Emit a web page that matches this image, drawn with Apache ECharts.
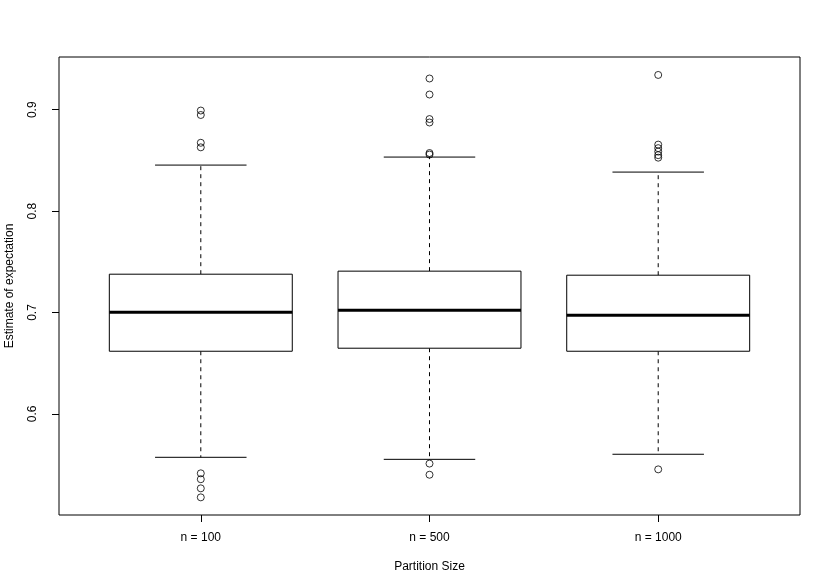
<!DOCTYPE html>
<html><head><meta charset="utf-8">
<script src="https://cdn.jsdelivr.net/npm/echarts@6/dist/echarts.min.js"></script>
<style>html,body{margin:0;padding:0;background:#fff}#c{width:830px;height:588px}</style>
</head><body><div id="c"></div>
<script>
const categories = ['n = 100', 'n = 500', 'n = 1000'];
const positions = [1, 2, 3];
const lowerWhisker = [0.5572, 0.5552, 0.5602];
const q1 = [0.6618, 0.6648, 0.6618];
const median = [0.7003, 0.7023, 0.6973];
const q3 = [0.7378, 0.7408, 0.7368];
const upperWhisker = [0.8454, 0.8533, 0.8385];
const outliers100 = [0.8992, 0.8948, 0.8674, 0.8629, 0.5414, 0.5356, 0.5266, 0.5177];
const outliers500 = [0.9308, 0.9150, 0.8908, 0.8874, 0.8573, 0.8558, 0.5510, 0.5400];
const outliers1000 = [0.9343, 0.8656, 0.8621, 0.8587, 0.8552, 0.8527, 0.5453];
const yTicks = [0.6, 0.7, 0.8, 0.9];

const outlierSets = [outliers100, outliers500, outliers1000];
const boxData = positions.map((p, i) => [p, lowerWhisker[i], q1[i], median[i], q3[i], upperWhisker[i]]);
const outlierData = [];
outlierSets.forEach((arr, i) => arr.forEach(v => outlierData.push([positions[i], v])));

const FONT = 'Liberation Sans, Arial, sans-serif';
const chart = echarts.init(document.getElementById('c'), null, {renderer: 'canvas'});
chart.setOption({
  animation: false,
  backgroundColor: '#fff',
  grid: {left: 59, right: 30, top: 57, bottom: 73, show: true, borderColor: '#000', borderWidth: 1, backgroundColor: 'transparent', containLabel: false, outerBoundsMode: 'none'},
  xAxis: {
    type: 'value', min: 0.38, max: 3.62,
    axisLine: {show: false},
    splitLine: {show: false},
    axisTick: {show: true, length: 7, lineStyle: {color: '#000'}, customValues: positions},
    axisLabel: {show: true, margin: 17, color: '#000', fontFamily: FONT, fontSize: 12,
      customValues: positions,
      formatter: v => categories[positions.indexOf(Math.round(v))] || ''},
    name: 'Partition Size', nameLocation: 'middle', nameGap: 46,
    nameTextStyle: {color: '#000', fontFamily: FONT, fontSize: 12}
  },
  yAxis: {
    type: 'value', min: 0.5003, max: 0.952,
    axisLine: {show: false},
    splitLine: {show: false},
    axisTick: {show: true, length: 7, lineStyle: {color: '#000'}, customValues: yTicks},
    axisLabel: {show: true, margin: 20, rotate: 90, color: '#000', fontFamily: FONT, fontSize: 12,
      customValues: yTicks, formatter: v => v.toFixed(1)},
    name: 'Estimate of expectation', nameLocation: 'middle', nameGap: 43,
    nameTextStyle: {color: '#000', fontFamily: FONT, fontSize: 12}
  },
  series: [
    {
      type: 'custom',
      data: boxData,
      encode: {x: 0, y: [1, 2, 3, 4, 5]},
      renderItem: function (params, api) {
        const x = api.value(0);
        const lw = api.value(1), a = api.value(2), m = api.value(3), b = api.value(4), uw = api.value(5);
        const L = api.coord([x - 0.4, a]), R = api.coord([x + 0.4, b]);
        const c = api.coord([x, m]);
        const pLw = api.coord([x, lw]), pA = api.coord([x, a]), pB = api.coord([x, b]), pUw = api.coord([x, uw]);
        const capL = api.coord([x - 0.2, uw])[0], capR = api.coord([x + 0.2, uw])[0];
        const ls = {stroke: '#000', lineWidth: 1, fill: null};
        const dash = {stroke: '#000', lineWidth: 1, lineDash: [4, 4]};
        return {
          type: 'group',
          children: [
            {type: 'line', shape: {x1: pB[0], y1: pB[1], x2: pUw[0], y2: pUw[1]}, style: dash},
            {type: 'line', shape: {x1: pA[0], y1: pA[1], x2: pLw[0], y2: pLw[1]}, style: dash},
            {type: 'line', shape: {x1: capL, y1: pUw[1], x2: capR, y2: pUw[1]}, style: ls},
            {type: 'line', shape: {x1: capL, y1: pLw[1], x2: capR, y2: pLw[1]}, style: ls},
            {type: 'rect', shape: {x: L[0], y: R[1], width: R[0] - L[0], height: L[1] - R[1]}, style: {stroke: '#000', lineWidth: 1, fill: '#fff'}},
            {type: 'line', shape: {x1: L[0], y1: c[1], x2: R[0], y2: c[1]}, style: {stroke: '#000', lineWidth: 3}}
          ]
        };
      }
    },
    {
      type: 'scatter',
      data: outlierData,
      symbol: 'circle',
      symbolSize: 7,
      itemStyle: {color: 'transparent', borderColor: '#000', borderWidth: 1}
    }
  ]
});
</script>
</body></html>
